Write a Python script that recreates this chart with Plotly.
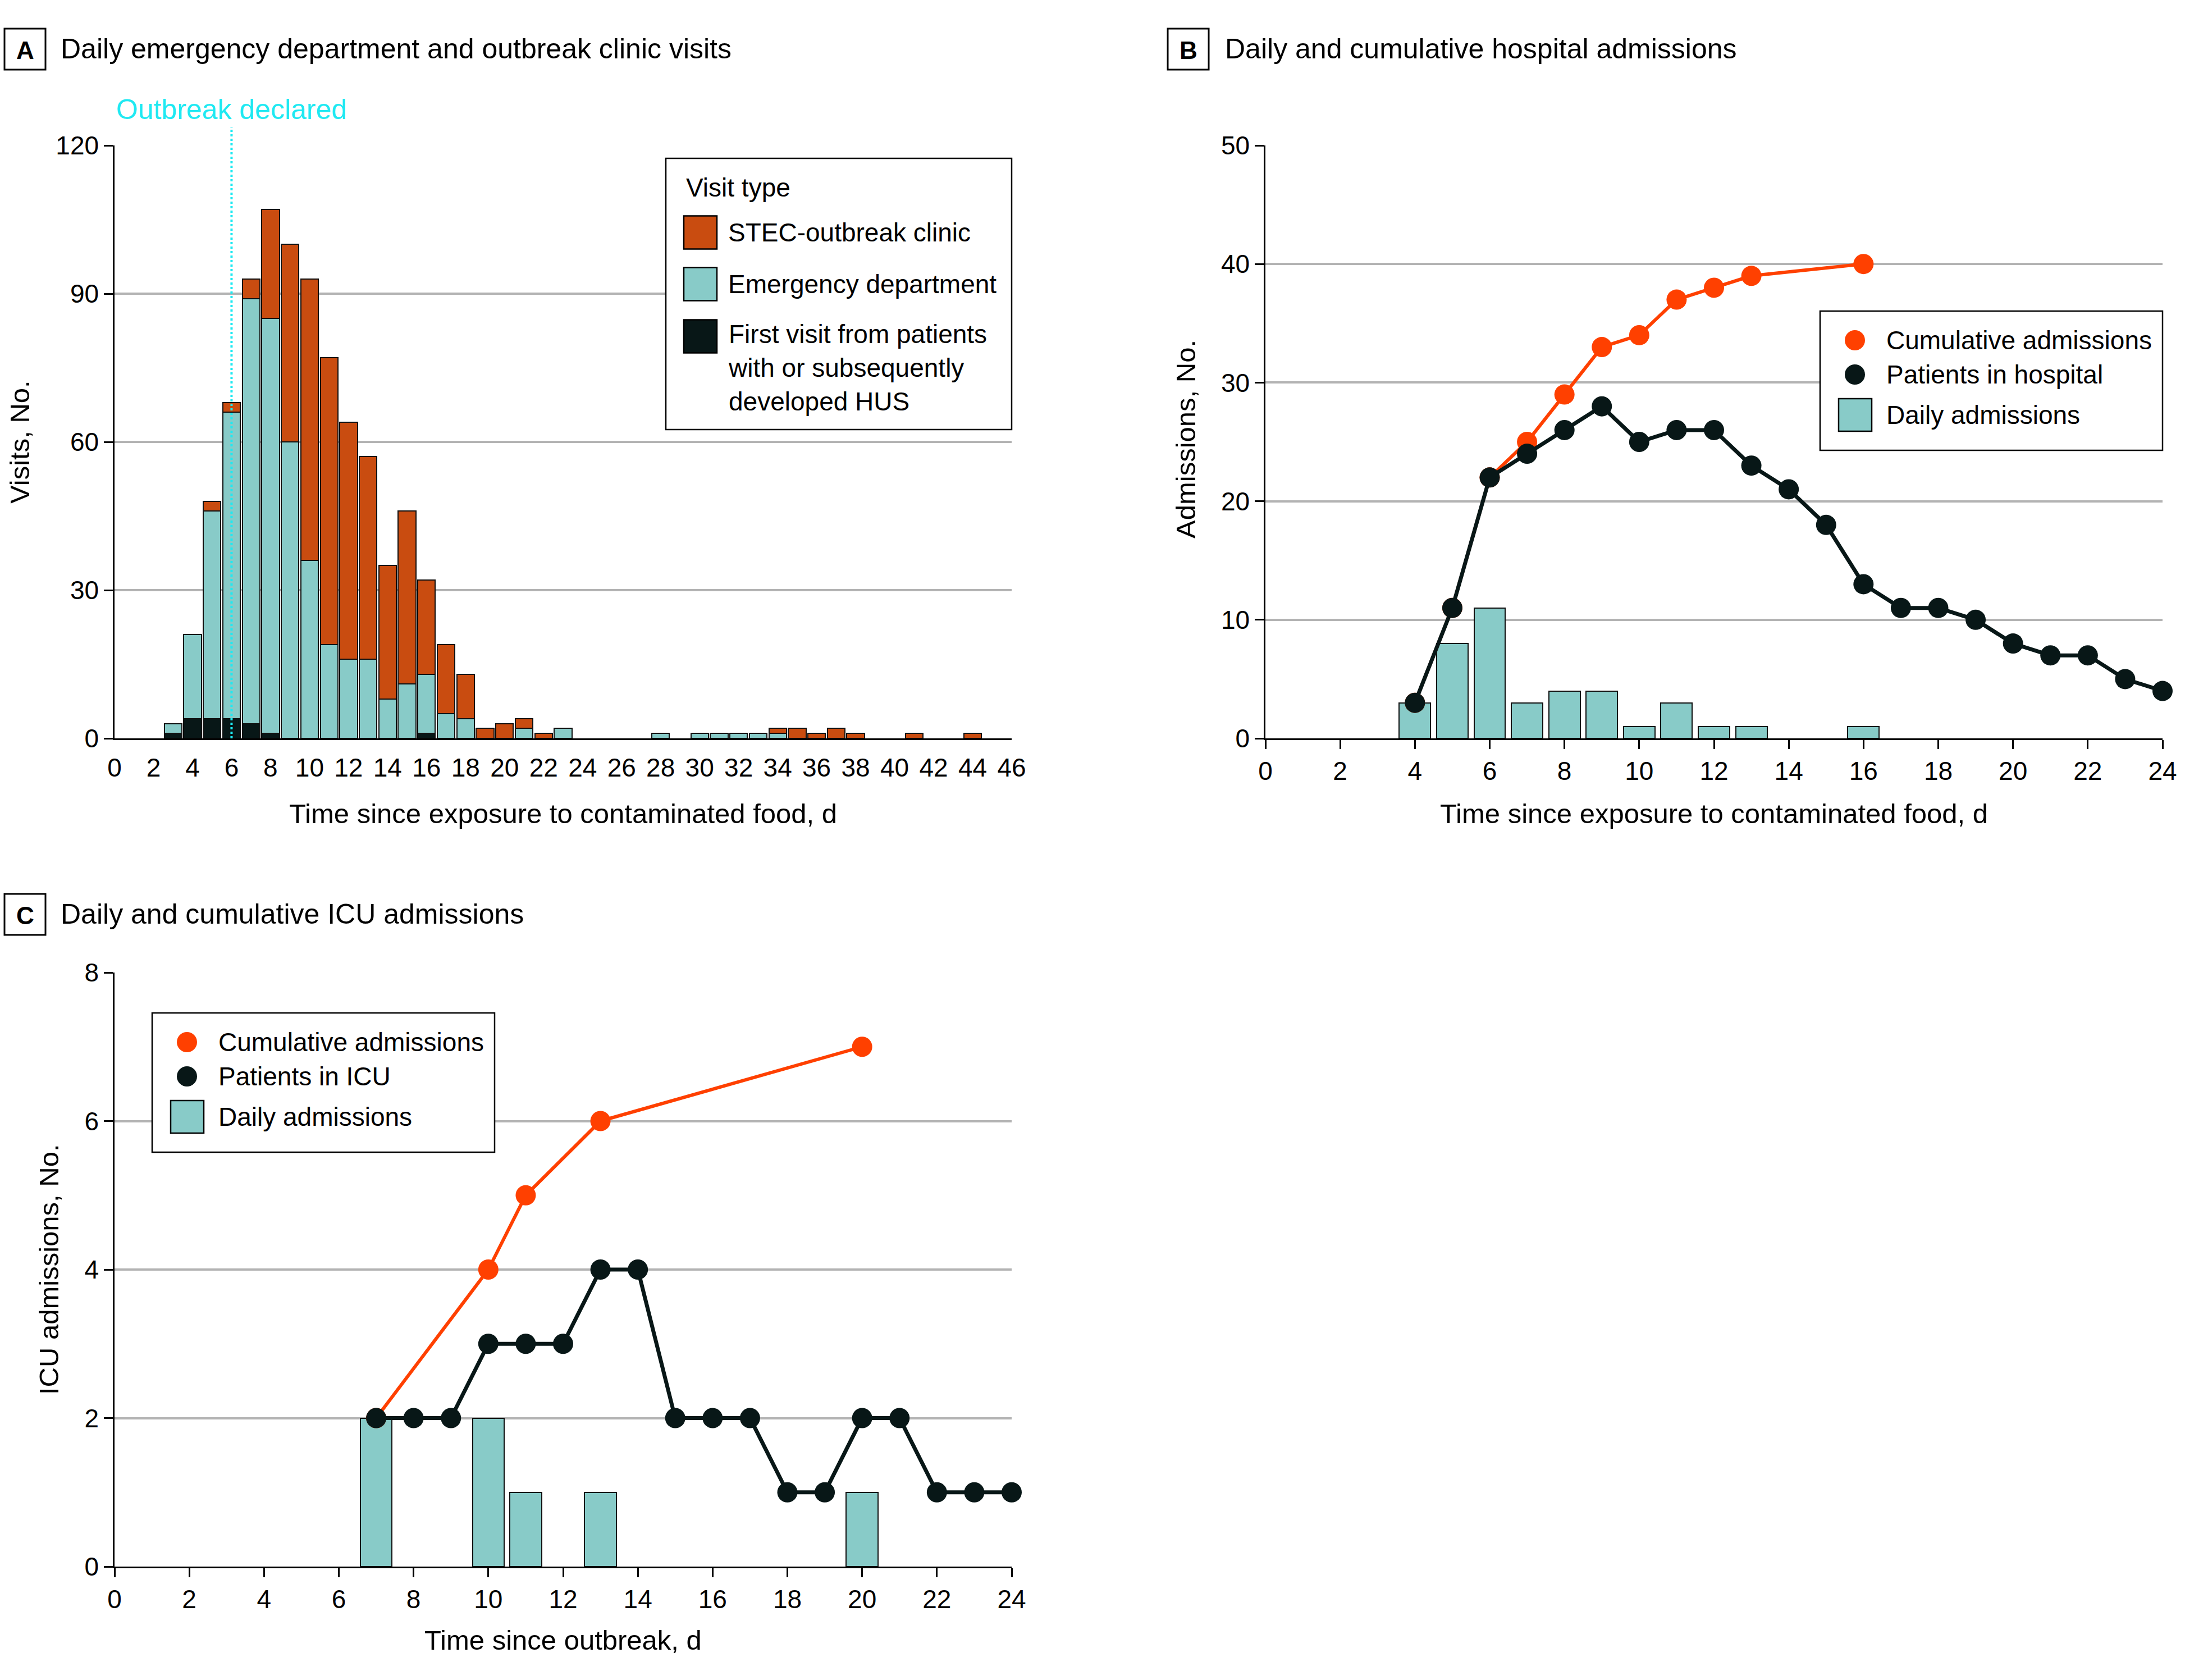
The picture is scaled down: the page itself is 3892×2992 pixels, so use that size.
import plotly.graph_objects as go

W, H = 3892, 2992
FONT = "Liberation Sans, Arial, sans-serif"

def px(x):
    return x / W

def py(y):
    return 1 - y / H

# ---------------- Panel A data ----------------
days_a = [3, 4, 5, 6, 7, 8, 9, 10, 11, 12, 13, 14, 15, 16, 17, 18, 19, 20, 21, 22, 23,
          28, 30, 31, 32, 33, 34, 35, 36, 37, 38, 41, 44]
ed_visits = [3, 21, 46, 66, 89, 85, 60, 36, 19, 16, 16, 8, 11, 13, 5, 4, 0, 0, 2, 0, 2,
             1, 1, 1, 1, 1, 1, 0, 0, 0, 0, 0, 0]
clinic_visits = [0, 0, 2, 2, 4, 22, 40, 57, 58, 48, 41, 27, 35, 19, 14, 9, 2, 3, 2, 1, 0,
                 0, 0, 0, 0, 0, 1, 2, 1, 2, 1, 1, 1]
hus_visits = [1, 4, 4, 4, 3, 1, 0, 0, 0, 0, 0, 0, 0, 1, 0, 0, 0, 0, 0, 0, 0,
              0, 0, 0, 0, 0, 0, 0, 0, 0, 0, 0, 0]
outbreak_day = 6

# ---------------- Panel B data ----------------
days_b = list(range(4, 25))
in_hospital = [3, 11, 22, 24, 26, 28, 25, 26, 26, 23, 21, 18, 13, 11, 11, 10, 8, 7, 7, 5, 4]
cum_days_b = [4, 5, 6, 7, 8, 9, 10, 11, 12, 13, 16]
cum_admissions_b = [3, 11, 22, 25, 29, 33, 34, 37, 38, 39, 40]
daily_days_b = [4, 5, 6, 7, 8, 9, 10, 11, 12, 13, 16]
daily_admissions_b = [3, 8, 11, 3, 4, 4, 1, 3, 1, 1, 1]

# ---------------- Panel C data ----------------
days_c = list(range(7, 25))
in_icu = [2, 2, 2, 3, 3, 3, 4, 4, 2, 2, 2, 1, 1, 2, 2, 1, 1, 1]
cum_days_c = [7, 10, 11, 13, 20]
cum_admissions_c = [2, 4, 5, 6, 7]
daily_days_c = [7, 10, 11, 13, 20]
daily_admissions_c = [2, 2, 1, 1, 1]

ticks_a = list(range(0, 47, 2))
ticks_bc = list(range(0, 25, 2))

ORANGE_BAR = "#C94C10"
TEAL = "#88CBC8"
DARK = "#081717"
RED = "#FF4000"
CYAN = "#1FE9F2"
GRID = "#B3B3B3"

def nz(vals):
    return [v if v else None for v in vals]

ed_only = [e - h for e, h in zip(ed_visits, hus_visits)]

fig = go.Figure()
bar_line = dict(color="#111", width=2.5)

fig.add_trace(go.Bar(x=days_a, y=nz(hus_visits), width=0.9, marker=dict(color=DARK, line=bar_line),
                     xaxis="x", yaxis="y", showlegend=False))
fig.add_trace(go.Bar(x=days_a, y=nz(ed_only), width=0.9, marker=dict(color=TEAL, line=bar_line),
                     xaxis="x", yaxis="y", showlegend=False))
fig.add_trace(go.Bar(x=days_a, y=nz(clinic_visits), width=0.9, marker=dict(color=ORANGE_BAR, line=bar_line),
                     xaxis="x", yaxis="y", showlegend=False))

fig.add_trace(go.Bar(x=daily_days_b, y=daily_admissions_b, width=0.84, marker=dict(color=TEAL, line=bar_line),
                     xaxis="x2", yaxis="y2", showlegend=False))
fig.add_trace(go.Scatter(x=cum_days_b, y=cum_admissions_b, mode="lines+markers",
                         line=dict(color=RED, width=6), marker=dict(color=RED, size=36),
                         xaxis="x2", yaxis="y2", cliponaxis=False, showlegend=False))
fig.add_trace(go.Scatter(x=days_b, y=in_hospital, mode="lines+markers",
                         line=dict(color=DARK, width=7), marker=dict(color=DARK, size=36),
                         xaxis="x2", yaxis="y2", cliponaxis=False, showlegend=False))

fig.add_trace(go.Bar(x=daily_days_c, y=daily_admissions_c, width=0.85, marker=dict(color=TEAL, line=bar_line),
                     xaxis="x3", yaxis="y3", showlegend=False))
fig.add_trace(go.Scatter(x=cum_days_c, y=cum_admissions_c, mode="lines+markers",
                         line=dict(color=RED, width=6), marker=dict(color=RED, size=36),
                         xaxis="x3", yaxis="y3", cliponaxis=False, showlegend=False))
fig.add_trace(go.Scatter(x=days_c, y=in_icu, mode="lines+markers",
                         line=dict(color=DARK, width=7), marker=dict(color=DARK, size=36),
                         xaxis="x3", yaxis="y3", cliponaxis=False, showlegend=False))

tickfont = dict(family=FONT, size=46, color="black")

def xax(dom, rng, vals, anchor, ticks, standoff):
    return dict(domain=dom, range=rng, tickvals=vals, anchor=anchor, showline=True,
                linecolor="black", linewidth=2.5, showgrid=False, zeroline=False,
                ticks=ticks, ticklen=16, tickwidth=2.5, tickcolor="black",
                ticklabelstandoff=standoff,
                tickfont=tickfont, fixedrange=True, automargin=False)

def yax(dom, rng, vals, anchor):
    return dict(domain=dom, range=rng, tickvals=vals, anchor=anchor, showline=True,
                linecolor="black", linewidth=2.5, showgrid=True, gridcolor=GRID, gridwidth=3.5,
                zeroline=False, ticks="outside", ticklen=16, tickwidth=2.5, tickcolor="black",
                tickfont=tickfont, fixedrange=True, automargin=False)

top_dom = [py(1315), py(259)]
fig.update_layout(
    template="none",
    width=W, height=H, margin=dict(l=0, r=0, t=0, b=0, pad=0), autosize=False,
    paper_bgcolor="white", plot_bgcolor="white", barmode="stack", bargap=0,
    font=dict(family=FONT, color="black"), showlegend=False,
    xaxis=xax([px(204), px(1802)], [0, 46], ticks_a, "y", "", 10),
    yaxis=yax(top_dom, [0, 120], [0, 30, 60, 90, 120], "x"),
    xaxis2=xax([px(2254), px(3852)], [0, 24], ticks_bc, "y2", "outside", 0),
    yaxis2=yax(top_dom, [0, 50], [0, 10, 20, 30, 40, 50], "x2"),
    xaxis3=xax([px(204), px(1802)], [0, 24], ticks_bc, "y3", "outside", 0),
    yaxis3=yax([py(2790), py(1732)], [0, 8], [0, 2, 4, 6, 8], "x3"),
)

shapes = []
ann = []

def text(x, y, s, size=46, xanchor="left", yanchor="middle", color="black", angle=0, **kw):
    ann.append(dict(x=px(x), y=py(y), xref="paper", yref="paper", text=s, showarrow=False,
                    xanchor=xanchor, yanchor=yanchor, textangle=angle, align="left",
                    font=dict(family=FONT, size=size, color=color), **kw))

def rect(x0, y0, x1, y1, fill="white", lw=2.5):
    shapes.append(dict(type="rect", xref="paper", yref="paper", x0=px(x0), x1=px(x1),
                       y0=py(y1), y1=py(y0), line=dict(color="black", width=lw),
                       fillcolor=fill, layer="above"))

def circle(cx, cy, d, color):
    shapes.append(dict(type="circle", xref="paper", yref="paper", x0=px(cx - d / 2), x1=px(cx + d / 2),
                       y0=py(cy + d / 2), y1=py(cy - d / 2), line=dict(color=color, width=0),
                       fillcolor=color, layer="above"))

# Panel titles
for (bx0, by0, lab, tx, title) in [
    (8, 51, "A", 106, "Daily emergency department and outbreak clinic visits"),
    (2080, 51, "B", 2180, "Daily and cumulative hospital admissions"),
    (8, 1592, "C", 106, "Daily and cumulative ICU admissions"),
]:
    rect(bx0, by0, bx0 + 73, by0 + 73, lw=3)
    text(bx0 + 36.5, by0 + 38, "<b>" + lab + "</b>", size=44, xanchor="center")
    text(tx, by0 + 36, title, size=50)

# Outbreak declared marker
shapes.append(dict(type="line", xref="x", yref="paper", x0=outbreak_day, x1=outbreak_day,
                   y0=py(1315), y1=py(226), line=dict(color=CYAN, width=4, dash="dot"), layer="above"))
text(205, 195, "Outbreak declared", size=50, color=CYAN)

# Axis titles
text(35, 787, "Visits, No.", size=49, xanchor="center", angle=-90)
text(2112, 782, "Admissions, No.", size=49, xanchor="center", angle=-90)
text(87, 2261, "ICU admissions, No.", size=49, xanchor="center", angle=-90)
text(1003, 1449, "Time since exposure to contaminated food, d", size=49, xanchor="center")
text(3053, 1449, "Time since exposure to contaminated food, d", size=49, xanchor="center")
text(1003, 2921, "Time since outbreak, d", size=49, xanchor="center")

# Legend A
rect(1186, 282, 1802, 765)
text(1220, 334, "Visit type")
for cy, col, lab in [(414, ORANGE_BAR, "STEC-outbreak clinic"),
                     (506, TEAL, "Emergency department"),
                     (599, DARK, None)]:
    rect(1218, cy - 29.5, 1277, cy + 29.5, fill=col)
    if lab:
        text(1295, cy, lab)
text(1295, 655, "First visit from patients<br>with or subsequently<br>developed HUS")

# Legend B and C
for (lx, ly, lab2) in [(3242, 554, "Patients in hospital"), (271, 1804, "Patients in ICU")]:
    rect(lx, ly, lx + 610, ly + 248)
    circle(lx + 62, ly + 52, 36, RED)
    circle(lx + 62, ly + 113, 36, DARK)
    rect(lx + 33, ly + 156, lx + 92, ly + 214, fill=TEAL)
    text(lx + 116, ly + 52, "Cumulative admissions")
    text(lx + 116, ly + 113, lab2)
    text(lx + 116, ly + 185, "Daily admissions")

fig.update_layout(shapes=shapes, annotations=ann)
fig.write_html("out.html")
